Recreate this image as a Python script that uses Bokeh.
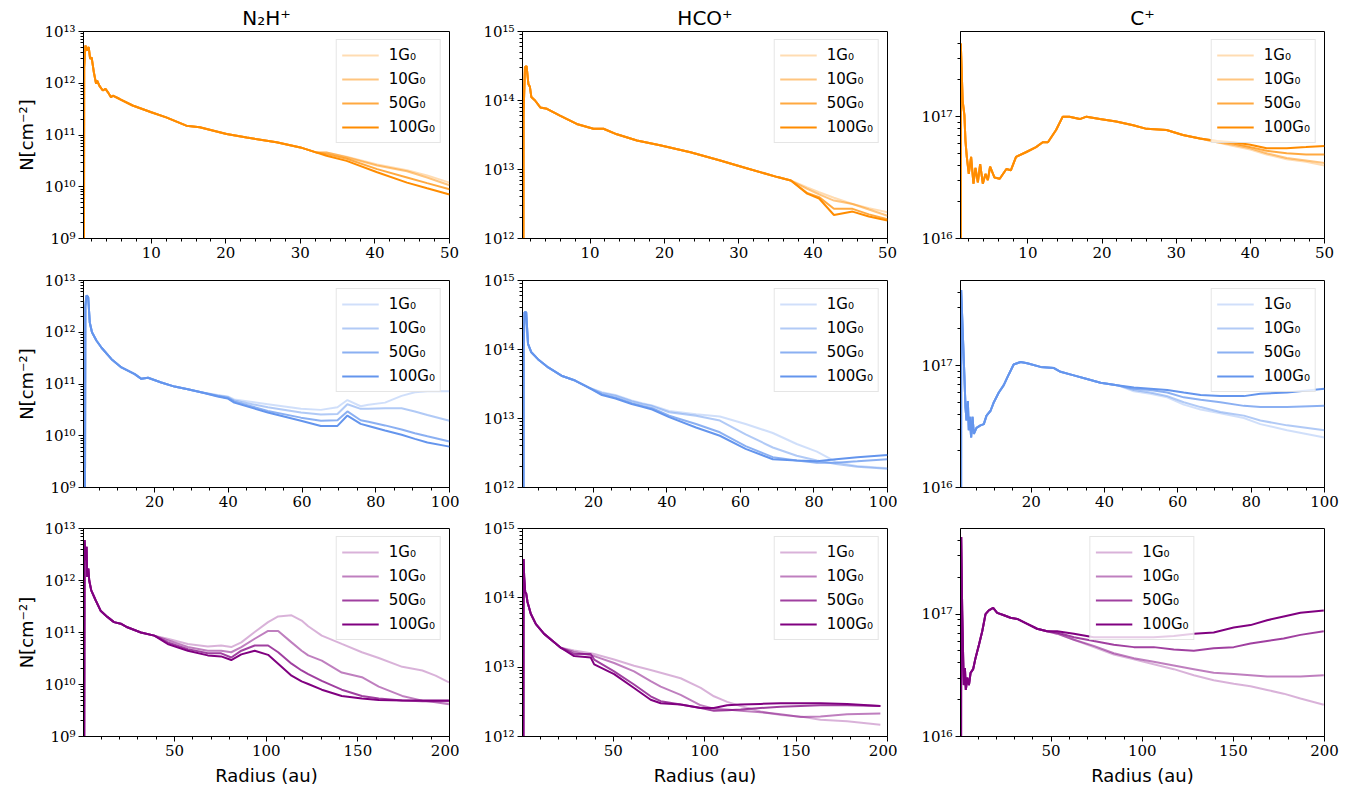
import numpy as np
from bokeh.plotting import figure
from bokeh.layouts import column, row
from bokeh.models import Range1d, FixedTicker, CustomJSTickFormatter
from bokeh.embed import file_html
from bokeh.resources import INLINE

# ---------------- labels ----------------
SPECIES = ["N₂H⁺", "HCO⁺", "C⁺"]
G0_LABELS = ["1G₀", "10G₀", "50G₀", "100G₀"]
X_LABEL = "Radius (au)"
Y_LABEL = "N[cm⁻²]"

# ---------------- data (log10 N [cm^-2]) ----------------
# Row 1: 50 au disk
N2H_50_X_IN = [0.95, 1.0, 1.17, 1.39, 1.61, 1.8, 2.0, 2.3, 2.6, 2.74, 3.05, 3.5, 3.86, 4.17, 4.6, 4.84, 5.7, 7.5, 10, 12, 14.7, 16.5, 20.1, 22.8, 26.8, 30.0, 32.2]
N2H_50_LOG_IN = [5.0, 12.31, 12.73, 12.63, 12.70, 12.47, 12.50, 12.21, 11.99, 12.05, 11.95, 11.86, 11.89, 11.83, 11.73, 11.76, 11.70, 11.57, 11.44, 11.34, 11.18, 11.15, 11.02, 10.95, 10.86, 10.76, 10.66]
N2H_50_X_OUT = [33.5, 36.2, 40.3, 44.3, 47, 50]
N2H_50_LOG_1G = [10.66, 10.58, 10.43, 10.32, 10.22, 10.08]
N2H_50_LOG_10G = [10.66, 10.57, 10.41, 10.30, 10.18, 10.03]
N2H_50_LOG_50G = [10.63, 10.54, 10.34, 10.18, 10.07, 9.95]
N2H_50_LOG_100G = [10.60, 10.50, 10.28, 10.08, 9.97, 9.85]

HCO_50_X_IN = [0.95, 1.05, 1.24, 1.46, 1.7, 1.9, 2.1, 2.6, 3.3, 4.2, 5.95, 8.2, 10.45, 11.8, 13.6, 16.3, 19.4, 23.5, 27.5, 30.7, 35.2, 37]
HCO_50_LOG_IN = [5.0, 13.8, 14.48, 14.5, 14.24, 14.2, 14.05, 14.0, 13.9, 13.88, 13.78, 13.66, 13.59, 13.59, 13.51, 13.42, 13.35, 13.25, 13.13, 13.03, 12.89, 12.84]
HCO_50_X_OUT = [39.2, 40.8, 42.8, 45.3, 47.5, 50]
HCO_50_LOG_1G = [12.74, 12.67, 12.59, 12.50, 12.44, 12.38]
HCO_50_LOG_10G = [12.72, 12.64, 12.55, 12.50, 12.42, 12.33]
HCO_50_LOG_50G = [12.66, 12.60, 12.43, 12.43, 12.35, 12.28]
HCO_50_LOG_100G = [12.65, 12.58, 12.34, 12.39, 12.32, 12.26]

CP_50_X_IN = [0.93, 0.95, 1.2, 1.44, 1.58, 1.76, 2.03, 2.34, 2.66, 2.93, 3.25, 3.56, 3.92, 4.28, 4.6, 4.9, 5.5, 6.2, 7.1, 7.7, 8.4, 9.8, 11.1, 12, 12.7, 13.8, 14.7, 15.6, 17, 17.9, 19.7, 21.9, 24.2, 26, 28.7, 30.9, 33.2]
CP_50_LOG_IN = [15.0, 17.60, 17.13, 17.01, 16.8, 16.67, 16.53, 16.67, 16.45, 16.58, 16.46, 16.61, 16.45, 16.53, 16.48, 16.59, 16.5, 16.49, 16.57, 16.56, 16.67, 16.71, 16.75, 16.79, 16.79, 16.89, 17.0, 17.0, 16.98, 17.0, 16.98, 16.96, 16.93, 16.9, 16.89, 16.85, 16.82]
CP_50_X_OUT = [35.5, 37.7, 40, 42.2, 44.9, 47.5, 50]
CP_50_LOG_1G = [16.79, 16.76, 16.73, 16.69, 16.65, 16.63, 16.60]
CP_50_LOG_10G = [16.79, 16.77, 16.74, 16.70, 16.66, 16.64, 16.62]
CP_50_LOG_50G = [16.80, 16.78, 16.75, 16.72, 16.70, 16.69, 16.69]
CP_50_LOG_100G = [16.80, 16.79, 16.77, 16.74, 16.74, 16.75, 16.76]

# Row 2: 100 au disk
N2H_100_X_IN = [1.0, 1.2, 1.5, 1.97, 2.4, 3.0, 4.2, 5.6, 8.3, 11, 14.6, 16.4, 18.2, 21.8, 25.4, 29, 32.6]
N2H_100_LOG_IN = [5.0, 12.5, 12.71, 12.68, 12.19, 12.0, 11.84, 11.70, 11.48, 11.32, 11.19, 11.10, 11.12, 11.03, 10.95, 10.90, 10.84]
N2H_100_X_OUT = [37.1, 39.8, 41.6, 50.7, 59.7, 65.1, 69.6, 72.3, 75.9, 78, 82.5, 87, 90.6, 94, 100]
N2H_100_LOG_1G = [10.79, 10.76, 10.70, 10.61, 10.52, 10.50, 10.55, 10.69, 10.57, 10.60, 10.64, 10.77, 10.84, 10.86, 10.86]
N2H_100_LOG_10G = [10.78, 10.75, 10.68, 10.55, 10.45, 10.41, 10.42, 10.61, 10.52, 10.52, 10.53, 10.53, 10.47, 10.40, 10.29]
N2H_100_LOG_50G = [10.77, 10.73, 10.66, 10.48, 10.35, 10.29, 10.30, 10.47, 10.30, 10.27, 10.20, 10.12, 10.05, 9.99, 9.89]
N2H_100_LOG_100G = [10.76, 10.72, 10.64, 10.45, 10.29, 10.19, 10.19, 10.39, 10.23, 10.19, 10.10, 10.02, 9.94, 9.87, 9.79]

HCO_100_X_IN = [0.85, 1.0, 1.26, 1.7, 2.2, 3.1, 4.9, 7.7, 11.3, 15, 18.6]
HCO_100_LOG_IN = [5.0, 14.0, 14.54, 14.54, 14.08, 13.96, 13.86, 13.74, 13.62, 13.55, 13.45]
HCO_100_X_OUT = [22.3, 26, 30.4, 33.3, 36, 40.6, 47.9, 54.4, 61.4, 68.8, 75.3, 80.8, 86, 91.8, 100]
HCO_100_LOG_1G = [13.38, 13.34, 13.26, 13.22, 13.19, 13.11, 13.06, 13.03, 12.92, 12.79, 12.63, 12.52, 12.37, 12.31, 12.28]
HCO_100_LOG_10G = [13.37, 13.33, 13.25, 13.21, 13.18, 13.09, 13.04, 12.97, 12.77, 12.58, 12.46, 12.39, 12.34, 12.30, 12.27]
HCO_100_LOG_50G = [13.35, 13.30, 13.22, 13.18, 13.15, 13.04, 12.92, 12.80, 12.60, 12.44, 12.39, 12.36, 12.36, 12.38, 12.41]
HCO_100_LOG_100G = [13.34, 13.29, 13.21, 13.17, 13.13, 13.02, 12.87, 12.75, 12.56, 12.41, 12.39, 12.38, 12.41, 12.44, 12.47]

CP_100_X_IN = [0.86, 0.88, 1.43, 1.8, 2.06, 2.34, 2.7, 2.97, 3.25, 3.6, 3.97, 4.34, 5.06, 6.15, 7.06, 7.8, 8.9, 9.8, 11.15, 12.5, 13.9, 15.2, 17.1, 18.9, 22.5, 26.2, 28, 31.6, 35.2, 38.9, 43.4]
CP_100_LOG_IN = [15.0, 17.62, 17.18, 16.88, 16.66, 16.55, 16.71, 16.47, 16.58, 16.41, 16.58, 16.44, 16.49, 16.51, 16.52, 16.59, 16.63, 16.70, 16.78, 16.84, 16.93, 17.01, 17.03, 17.02, 16.99, 16.98, 16.95, 16.92, 16.89, 16.86, 16.84]
CP_100_X_OUT = [48, 52.5, 57.1, 61.6, 66.2, 71.6, 78, 82.5, 89.8, 100]
CP_100_LOG_1G = [16.79, 16.77, 16.74, 16.68, 16.64, 16.61, 16.57, 16.52, 16.47, 16.41]
CP_100_LOG_10G = [16.80, 16.78, 16.75, 16.70, 16.66, 16.62, 16.59, 16.55, 16.51, 16.47]
CP_100_LOG_50G = [16.81, 16.80, 16.78, 16.74, 16.72, 16.70, 16.67, 16.66, 16.66, 16.67]
CP_100_LOG_100G = [16.82, 16.81, 16.80, 16.78, 16.76, 16.75, 16.75, 16.77, 16.78, 16.81]

# Row 3: 200 au disk
N2H_200_X_IN = [0.45, 0.85, 1.4, 1.95, 2.3, 2.9, 3.4, 4.5, 6.9, 9.6, 13.3, 16.9, 20.6, 24.2, 31.6, 38.9]
N2H_200_LOG_IN = [5.0, 12.78, 12.39, 12.65, 12.07, 12.23, 12.0, 11.81, 11.62, 11.42, 11.30, 11.20, 11.17, 11.10, 11.0, 10.94]
N2H_200_X_OUT = [46.2, 57.2, 68.1, 75.4, 80.9, 86.4, 93.7, 101, 106.5, 113.8, 119.3, 122.9, 130.3, 141.2, 152.2, 161.4, 174.2, 185.2, 192.4, 199.7]
N2H_200_LOG_1G = [10.88, 10.78, 10.73, 10.75, 10.72, 10.81, 11.01, 11.20, 11.31, 11.33, 11.23, 11.12, 10.94, 10.78, 10.62, 10.51, 10.34, 10.27, 10.17, 10.04]
N2H_200_LOG_10G = [10.85, 10.72, 10.65, 10.65, 10.62, 10.72, 10.88, 11.03, 11.03, 10.81, 10.65, 10.56, 10.46, 10.23, 10.14, 9.96, 9.78, 9.69, 9.66, 9.62]
N2H_200_LOG_50G = [10.81, 10.68, 10.60, 10.60, 10.52, 10.65, 10.75, 10.75, 10.62, 10.40, 10.27, 10.20, 10.07, 9.90, 9.78, 9.73, 9.69, 9.68, 9.68, 9.68]
N2H_200_LOG_100G = [10.78, 10.65, 10.56, 10.54, 10.47, 10.58, 10.65, 10.57, 10.40, 10.17, 10.06, 10.01, 9.90, 9.78, 9.73, 9.70, 9.69, 9.69, 9.69, 9.69]

HCO_200_X_IN = [0.5, 0.85, 1.2, 1.76, 2.3, 3.0, 4.8, 7.6, 12.1, 17.6, 21.2]
HCO_200_LOG_IN = [5.0, 14.56, 14.3, 14.08, 14.06, 13.94, 13.77, 13.62, 13.48, 13.36, 13.28]
HCO_200_X_OUT = [28.5, 37.6, 39.5, 50.4, 61.3, 70.4, 75.9, 86.8, 97.8, 105, 112.3, 119.6, 130.6, 141.5, 152.4, 163.3, 177.9, 196.1]
HCO_200_LOG_1G = [13.24, 13.20, 13.19, 13.11, 13.02, 12.96, 12.92, 12.84, 12.70, 12.58, 12.50, 12.44, 12.36, 12.31, 12.29, 12.24, 12.22, 12.17]
HCO_200_LOG_10G = [13.22, 13.17, 13.16, 13.06, 12.94, 12.80, 12.72, 12.60, 12.45, 12.40, 12.39, 12.37, 12.35, 12.32, 12.28, 12.29, 12.32, 12.33]
HCO_200_LOG_50G = [13.19, 13.19, 13.11, 12.94, 12.75, 12.58, 12.51, 12.46, 12.41, 12.37, 12.38, 12.39, 12.41, 12.43, 12.44, 12.45, 12.45, 12.44]
HCO_200_LOG_100G = [13.16, 13.14, 13.04, 12.90, 12.70, 12.53, 12.48, 12.46, 12.41, 12.41, 12.45, 12.46, 12.47, 12.48, 12.48, 12.48, 12.47, 12.44]

CP_200_X_IN = [0.55, 0.66, 1.2, 1.76, 2.1, 2.7, 3.2, 4.0, 4.9, 5.8, 7.2, 8.5, 10.4, 12.2, 14, 15.8, 18.2, 20.4, 24.1, 27.7, 31.4, 36.9, 42.3, 47.8]
CP_200_LOG_IN = [15.0, 17.63, 17.03, 16.62, 16.42, 16.56, 16.38, 16.48, 16.42, 16.52, 16.55, 16.64, 16.75, 16.86, 17.0, 17.03, 17.05, 17.01, 16.99, 16.97, 16.96, 16.92, 16.88, 16.86]
CP_200_X_OUT = [53.3, 62.5, 73.4, 84.4, 95.4, 106.3, 117.3, 128.3, 139.2, 150.2, 159.4, 168.5, 177.6, 186.8, 199.6]
CP_200_LOG_1G = [16.84, 16.79, 16.73, 16.67, 16.63, 16.59, 16.55, 16.50, 16.46, 16.43, 16.41, 16.38, 16.35, 16.31, 16.26]
CP_200_LOG_10G = [16.84, 16.79, 16.74, 16.68, 16.64, 16.61, 16.58, 16.55, 16.52, 16.51, 16.50, 16.49, 16.49, 16.49, 16.50]
CP_200_LOG_50G = [16.85, 16.81, 16.78, 16.75, 16.73, 16.73, 16.71, 16.70, 16.72, 16.73, 16.76, 16.78, 16.80, 16.83, 16.86]
CP_200_LOG_100G = [16.86, 16.84, 16.81, 16.81, 16.81, 16.81, 16.82, 16.84, 16.85, 16.89, 16.91, 16.95, 16.98, 17.01, 17.03]

# ---------------- axis settings ----------------
X_LIMITS = [(0.91, 50), (0.7, 100), (0.27, 200)]
X_MAJOR = [[10, 20, 30, 40, 50], [20, 40, 60, 80, 100], [50, 100, 150, 200]]
X_MINOR_STEP = [2, 5, 10]
Y_LIMITS = [(1e9, 1e13), (1e12, 1e15), (1e16, 5e17)]

ROW_COLORS = ["#FF8C00", "#6495ED", "#800080"]
ALPHAS = [0.3, 0.5, 0.75, 1.0]

PANELS = [
    [(N2H_50_X_IN, N2H_50_LOG_IN, N2H_50_X_OUT, [N2H_50_LOG_1G, N2H_50_LOG_10G, N2H_50_LOG_50G, N2H_50_LOG_100G]),
     (HCO_50_X_IN, HCO_50_LOG_IN, HCO_50_X_OUT, [HCO_50_LOG_1G, HCO_50_LOG_10G, HCO_50_LOG_50G, HCO_50_LOG_100G]),
     (CP_50_X_IN, CP_50_LOG_IN, CP_50_X_OUT, [CP_50_LOG_1G, CP_50_LOG_10G, CP_50_LOG_50G, CP_50_LOG_100G])],
    [(N2H_100_X_IN, N2H_100_LOG_IN, N2H_100_X_OUT, [N2H_100_LOG_1G, N2H_100_LOG_10G, N2H_100_LOG_50G, N2H_100_LOG_100G]),
     (HCO_100_X_IN, HCO_100_LOG_IN, HCO_100_X_OUT, [HCO_100_LOG_1G, HCO_100_LOG_10G, HCO_100_LOG_50G, HCO_100_LOG_100G]),
     (CP_100_X_IN, CP_100_LOG_IN, CP_100_X_OUT, [CP_100_LOG_1G, CP_100_LOG_10G, CP_100_LOG_50G, CP_100_LOG_100G])],
    [(N2H_200_X_IN, N2H_200_LOG_IN, N2H_200_X_OUT, [N2H_200_LOG_1G, N2H_200_LOG_10G, N2H_200_LOG_50G, N2H_200_LOG_100G]),
     (HCO_200_X_IN, HCO_200_LOG_IN, HCO_200_X_OUT, [HCO_200_LOG_1G, HCO_200_LOG_10G, HCO_200_LOG_50G, HCO_200_LOG_100G]),
     (CP_200_X_IN, CP_200_LOG_IN, CP_200_X_OUT, [CP_200_LOG_1G, CP_200_LOG_10G, CP_200_LOG_50G, CP_200_LOG_100G])],
]

# ---------------- layout geometry ----------------
COL_W = [459, 438, 447]
COL_LEFT = [83, 63, 63]
COL_RIGHT = [10, 10, 20]
ROW_H = [268, 248, 279]
ROW_TOP = [31, 12, 12]
ROW_BOTTOM = [30, 29, 59]

SUP_JS = """
const sup = {"0":"\u2070","1":"\u00b9","2":"\u00b2","3":"\u00b3","4":"\u2074","5":"\u2075","6":"\u2076","7":"\u2077","8":"\u2078","9":"\u2079","-":"\u207b"};
const e = Math.round(Math.log10(tick));
return "10" + String(e).split("").map((c) => sup[c]).join("");
"""

SANS = "DejaVu Sans"
SERIF = "DejaVu Serif"


def log_ticks(lo, hi):
    k0, k1 = int(np.floor(np.log10(lo))), int(np.ceil(np.log10(hi)))
    major = [10.0 ** k for k in range(k0, k1 + 1) if lo * 0.999 <= 10.0 ** k <= hi * 1.001]
    minor = [m * 10.0 ** k for k in range(k0, k1 + 1) for m in range(2, 10) if lo < m * 10.0 ** k < hi]
    return major, minor


rows = []
for r in range(3):
    figs = []
    for c in range(3):
        x_in, log_in, x_out, log_tails = PANELS[r][c]
        p = figure(
            width=COL_W[c], height=ROW_H[r],
            y_axis_type="log",
            x_range=Range1d(*X_LIMITS[r]), y_range=Range1d(*Y_LIMITS[c]),
            output_backend="svg", toolbar_location=None,
            min_border_left=COL_LEFT[c], min_border_right=COL_RIGHT[c],
            min_border_top=ROW_TOP[r], min_border_bottom=ROW_BOTTOM[r],
        )
        p.background_fill_color = "white"
        p.border_fill_color = "white"
        p.outline_line_color = "black"
        p.outline_line_width = 1
        p.xgrid.visible = False
        p.ygrid.visible = False

        for k in range(4):
            xs = list(x_in) + list(x_out)
            ys = 10.0 ** np.array(list(log_in) + list(log_tails[k]))
            p.line(xs, ys, line_color=ROW_COLORS[r], line_alpha=ALPHAS[k],
                   line_width=2, legend_label=G0_LABELS[k])

        # x axis ticks
        xmaj = X_MAJOR[r]
        step = X_MINOR_STEP[r]
        xmin_ticks = [v for v in range(step, int(X_LIMITS[r][1]) + 1, step) if v not in xmaj]
        p.xaxis.ticker = FixedTicker(ticks=xmaj, minor_ticks=xmin_ticks)
        ymaj, ymin = log_ticks(*Y_LIMITS[c])
        p.yaxis.ticker = FixedTicker(ticks=ymaj, minor_ticks=ymin)
        p.yaxis.formatter = CustomJSTickFormatter(code=SUP_JS)

        for ax in (p.xaxis, p.yaxis):
            ax.axis_line_color = "black"
            ax.major_tick_line_color = "black"
            ax.minor_tick_line_color = "black"
            ax.major_tick_out = 5
            ax.major_tick_in = 0
            ax.minor_tick_out = 3
            ax.minor_tick_in = 0
            ax.major_label_text_font = SERIF
            ax.major_label_text_font_size = "15px"
            ax.major_label_text_color = "black"
            ax.major_label_standoff = 3

        if c == 0:
            p.yaxis.axis_label = Y_LABEL
            p.yaxis.axis_label_text_font = SANS
            p.yaxis.axis_label_text_font_size = "18px"
            p.yaxis.axis_label_text_font_style = "normal"
            p.yaxis.axis_label_text_color = "black"
            p.yaxis.axis_label_standoff = 4
        if r == 2:
            p.xaxis.axis_label = X_LABEL
            p.xaxis.axis_label_text_font = SANS
            p.xaxis.axis_label_text_font_size = "18px"
            p.xaxis.axis_label_text_font_style = "normal"
            p.xaxis.axis_label_text_color = "black"
            p.xaxis.axis_label_standoff = 6
        if r == 0:
            p.title.text = SPECIES[c]
            p.title.align = "center"
            p.title.text_font = SANS
            p.title.text_font_size = "20px"
            p.title.text_font_style = "normal"
            p.title.text_color = "black"
            p.title.standoff = 4

        lg = p.legend[0]
        lg.location = "top_center" if (r == 2 and c == 2) else "top_right"
        lg.margin = 8
        lg.padding = 5
        lg.spacing = 4
        lg.glyph_width = 37
        lg.glyph_height = 20
        lg.label_height = 20
        lg.label_standoff = 10
        lg.label_text_font = SANS
        lg.label_text_font_size = "15px"
        lg.label_text_color = "black"
        lg.border_line_color = "#cccccc"
        lg.border_line_width = 1
        lg.background_fill_color = "white"
        lg.background_fill_alpha = 0.8
        figs.append(p)
    rows.append(row(*figs))

layout = column(*rows)

open("out.html", "w").write(file_html(layout, INLINE))
